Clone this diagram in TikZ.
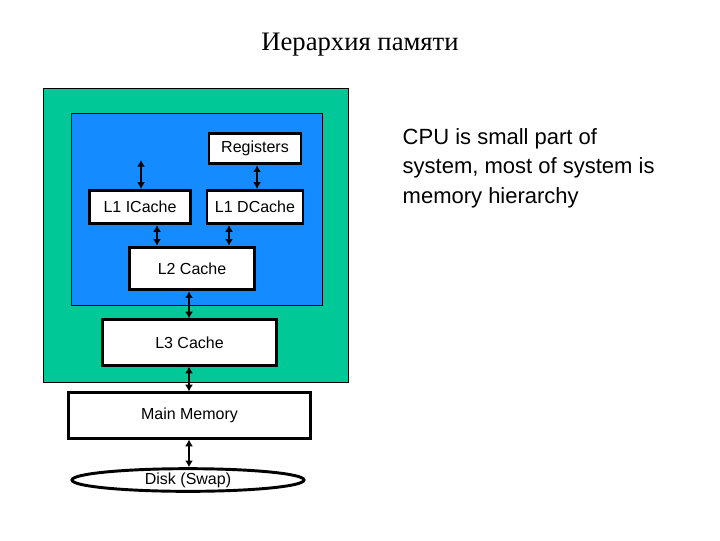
\documentclass[tikz,border=0pt]{standalone}
\usepackage{fontspec}
\setmainfont{Liberation Sans}
\newfontfamily\serifru{Liberation Serif}
\definecolor{grn}{RGB}{0,200,150}
\definecolor{blu}{RGB}{20,140,255}
\begin{document}
\begin{tikzpicture}[x=0.75pt,y=-0.75pt,
  bx/.style={draw=black,line width=2.2pt,fill=white,inner sep=0pt,font=\fontsize{12}{14}\selectfont},
  arr/.style={line width=2pt,{Latex[length=5pt,width=6pt]}-{Latex[length=5pt,width=6pt]}}]
\usetikzlibrary{arrows.meta,shapes.geometric}
\useasboundingbox[fill=white] (0,0) rectangle (720,540);
\node[font=\serifru\fontsize{20}{24}\selectfont] (title) at (360,45) {Иерархия памяти};
\draw[fill=grn,draw=black,line width=0.6pt] (43,88) rectangle (348,382);
\draw[fill=blu,draw=black,line width=0.6pt] (71,113) rectangle (322,305);
\node[bx,minimum width=69pt,minimum height=23pt] (reg) at (255,148.5) {Registers};
\node[bx,minimum width=76pt,minimum height=25pt] (l1i) at (140,207) {L1 ICache};
\node[bx,minimum width=72pt,minimum height=25pt] (l1d) at (255,207) {L1 DCache};
\node[bx,minimum width=94pt,minimum height=32pt] (l2) at (192,268.5) {L2 Cache};
\node[bx,minimum width=130pt,minimum height=34pt] (l3) at (189.5,342.5) {L3 Cache};
\node[bx,minimum width=182pt,minimum height=34pt] (mm) at (189.5,415.5) {Main Memory};
\node[bx,ellipse,minimum width=174pt,minimum height=17pt] (disk) at (188,480) {Disk (Swap)};
\coordinate (top) at (141,160);
\draw[arr] (top) -- (l1i.north -| top);
\draw[arr] (reg.south -| 257,0) -- (l1d.north -| 257,0);
\draw[arr] (l1i.south -| 157,0) -- (l2.north -| 157,0);
\draw[arr] (l1d.south -| 229,0) -- (l2.north -| 229,0);
\draw[arr] (l2.south -| 189,0) -- (l3.north -| 189,0);
\draw[arr] (l3.south -| 189,0) -- (mm.north -| 189,0);
\draw[arr] (mm.south -| 189,0) -- (disk.north -| 189,0);
\node[anchor=north west,align=left,font=\fontsize{16.5}{22}\selectfont] (txt) at (398,124) {CPU is small part of\\system, most of system is\\memory hierarchy};
\end{tikzpicture}
\end{document}
